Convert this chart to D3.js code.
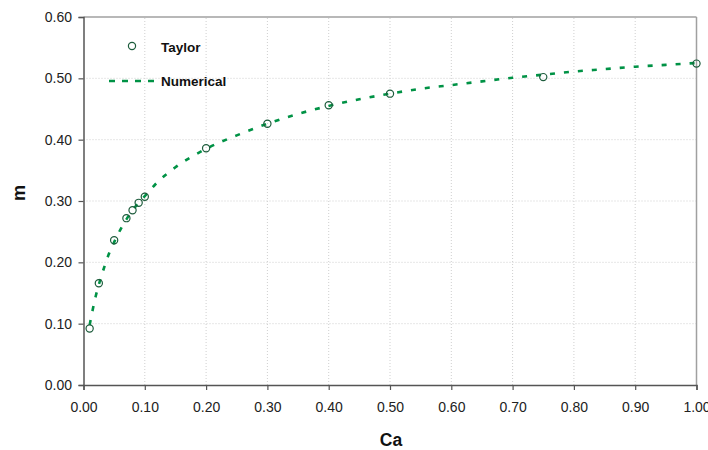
<!DOCTYPE html>
<html><head><meta charset="utf-8">
<script src="https://cdn.jsdelivr.net/npm/d3@7"></script>
<style>body{margin:0;background:#fff;} text{font-family:"Liberation Sans",Arial,sans-serif;}</style>
</head><body>
<svg id="c" width="708" height="450"></svg>
<script>
const taylorCa = [0.01,0.025,0.05,0.07,0.08,0.09,0.10,0.20,0.30,0.40,0.50,0.75,1.00];
const taylorM  = [0.092,0.166,0.236,0.272,0.285,0.297,0.307,0.386,0.426,0.456,0.475,0.502,0.524];
const numCa = [0.01,0.02,0.03,0.04,0.05,0.06,0.07,0.08,0.09,0.10,0.12,0.15,0.20,0.25,0.30,0.35,0.40,0.45,0.50,0.55,0.60,0.65,0.70,0.75,0.80,0.85,0.90,0.95,1.00];
const numM  = [0.098,0.145,0.180,0.210,0.233,0.253,0.270,0.285,0.297,0.308,0.330,0.355,0.385,0.407,0.426,0.442,0.455,0.466,0.475,0.483,0.489,0.495,0.501,0.506,0.511,0.515,0.519,0.522,0.525];
const xTicks = [0,0.1,0.2,0.3,0.4,0.5,0.6,0.7,0.8,0.9,1.0];
const yTicks = [0,0.1,0.2,0.3,0.4,0.5,0.6];

const svg = d3.select("#c");
const x = d3.scaleLinear().domain([0,1]).range([83.5,696.5]);
const y = d3.scaleLinear().domain([0,0.6]).range([385,17]);
const green = "#009245", mk = "#1d5c3c";

// grid
const g = svg.append("g");
g.selectAll(".gx").data(xTicks.slice(1,-1)).join("line")
 .attr("x1",d=>x(d)).attr("x2",d=>x(d)).attr("y1",y(0)).attr("y2",y(0.6))
 .attr("stroke","#cfcfcf").attr("stroke-dasharray","1,2");
g.selectAll(".gy").data(yTicks.slice(1,-1)).join("line")
 .attr("y1",d=>y(d)).attr("y2",d=>y(d)).attr("x1",x(0)).attr("x2",x(1))
 .attr("stroke","#cfcfcf").attr("stroke-dasharray","1,2");
// border top/right
svg.append("line").attr("x1",x(0)).attr("x2",x(1)).attr("y1",y(0.6)).attr("y2",y(0.6)).attr("stroke","#a0a0a0").attr("stroke-width",1.5);
svg.append("line").attr("x1",x(1)).attr("x2",x(1)).attr("y1",y(0.6)).attr("y2",y(0)).attr("stroke","#a0a0a0").attr("stroke-width",1.5);

// axes
const xa = svg.append("g").attr("transform",`translate(0,${y(0)})`)
 .call(d3.axisBottom(x).tickValues(xTicks).tickFormat(d3.format(".2f")).tickSize(5).tickPadding(12));
const ya = svg.append("g").attr("transform",`translate(${x(0)},0)`)
 .call(d3.axisLeft(y).tickValues(yTicks).tickFormat(d3.format(".2f")).tickSize(5).tickPadding(6.5));
[xa,ya].forEach(a=>{
  a.select(".domain").attr("stroke","#555").attr("stroke-width",1.5);
  a.selectAll(".tick line").attr("stroke","#555").attr("stroke-width",1.2);
  a.selectAll("text").attr("font-size",14).attr("fill","#222").attr("font-family","Liberation Sans, Arial, sans-serif");
});

// numerical line
const line = d3.line().x((d,i)=>x(numCa[i])).y((d,i)=>y(numM[i])).curve(d3.curveMonotoneX);
svg.append("path").datum(numM).attr("d",line).attr("fill","none")
 .attr("stroke",green).attr("stroke-width",2.6).attr("stroke-dasharray","5,9");

// taylor markers
svg.selectAll(".pt").data(taylorM).join("circle")
 .attr("cx",(d,i)=>x(taylorCa[i])).attr("cy",d=>y(d)).attr("r",3.6)
 .attr("fill","none").attr("stroke",mk).attr("stroke-width",1.2);

// legend
svg.append("circle").attr("cx",132).attr("cy",46).attr("r",3.6).attr("fill","none").attr("stroke",mk).attr("stroke-width",1.2);
svg.append("text").attr("x",161).attr("y",51.5).attr("font-size",13.5).attr("font-weight","bold").attr("fill","#111").text("Taylor");
svg.append("line").attr("x1",109).attr("x2",157).attr("y1",81).attr("y2",81).attr("stroke",green).attr("stroke-width",2.6).attr("stroke-dasharray","6,7");
svg.append("text").attr("x",161).attr("y",86).attr("font-size",13.5).attr("font-weight","bold").attr("fill","#111").text("Numerical");

// axis titles
svg.append("text").attr("x",391).attr("y",446).attr("text-anchor","middle").attr("font-size",17.5).attr("font-weight","bold").attr("fill","#111").text("Ca");
svg.append("text").attr("transform","translate(25,193) rotate(-90)").attr("text-anchor","middle").attr("font-size",18).attr("font-weight","bold").attr("fill","#111").text("m");
</script>
</body></html>
